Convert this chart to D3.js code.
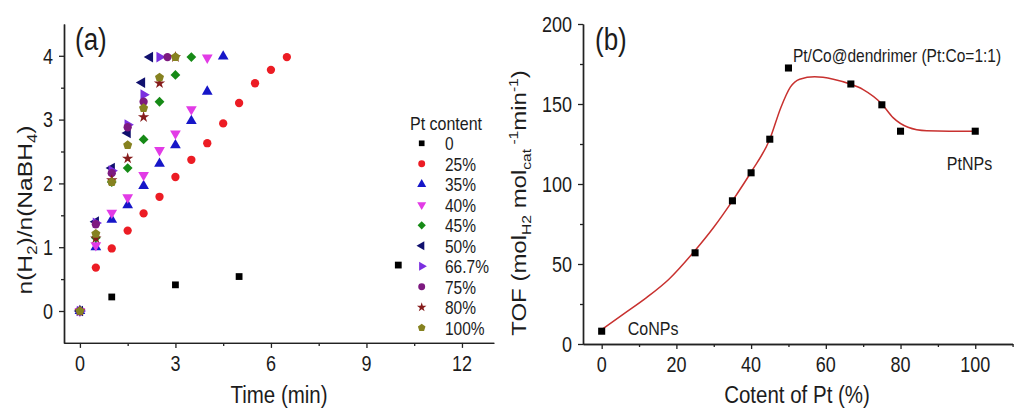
<!DOCTYPE html>
<html>
<head>
<meta charset="utf-8">
<script src="https://cdn.jsdelivr.net/npm/d3@7"></script>
<style>
  body { margin: 0; background: #fff; }
  svg { display: block; }
  text { font-family: "Liberation Sans", Arial, sans-serif; fill: #1c1c1c; }
</style>
</head>
<body>
<svg id="chart" width="1016" height="408"></svg>
<script>
// ---------- Panel (a): n(H2)/n(NaBH4) against time for each Pt content ----------
const ptLabels = ["0", "25%", "35%", "40%", "45%", "50%", "66.7%", "75%", "80%", "100%"];

const time0   = [0, 1, 3, 5, 10];
const h2_0    = [0, 0.22, 0.41, 0.54, 0.72];
const time25  = [0, 0.5, 1, 1.5, 2, 2.5, 3, 3.5, 4, 4.5, 5, 5.5, 6, 6.5];
const h2_25   = [0, 0.68, 0.98, 1.26, 1.53, 1.79, 2.10, 2.37, 2.63, 2.94, 3.26, 3.57, 3.78, 3.98];
const time35  = [0, 0.5, 1, 1.5, 2, 2.5, 3, 3.5, 4, 4.5];
const h2_35   = [0, 1.00, 1.43, 1.66, 1.96, 2.31, 2.60, 2.98, 3.44, 3.99];
const time40  = [0, 0.5, 1, 1.5, 2, 2.5, 3, 3.5, 4];
const h2_40   = [0, 1.03, 1.54, 1.78, 2.13, 2.52, 2.78, 3.16, 3.97];
const time45  = [0, 0.5, 1, 1.5, 2, 2.5, 3, 3.5];
const h2_45   = [0, 1.15, 2.02, 2.24, 2.69, 3.28, 3.70, 3.98];
const time50  = [0, 0.5, 1, 1.5, 1.95, 2.2];
const h2_50   = [0, 1.40, 2.24, 2.79, 3.58, 3.98];
const time667 = [0, 0.5, 1, 1.5, 2, 2.5];
const h2_667  = [0, 1.38, 2.20, 2.92, 3.39, 3.98];
const time75  = [0, 0.5, 1, 1.5, 2, 2.75];
const h2_75   = [0, 1.36, 2.16, 2.88, 3.28, 3.98];
const time80  = [0, 0.5, 1, 1.5, 2, 2.5, 3];
const h2_80   = [0, 1.14, 2.05, 2.39, 3.04, 3.57, 3.98];
const time100 = [0, 0.5, 1, 1.5, 2, 2.5, 3];
const h2_100  = [0, 1.21, 2.02, 2.60, 3.18, 3.66, 3.98];

const timeTicks = [0, 3, 6, 9, 12];
const timeMinorTicks = [1.5, 4.5, 7.5, 10.5];
const ratioTicks = [0, 1, 2, 3, 4];
const ratioMinorTicks = [0.5, 1.5, 2.5, 3.5];

// ---------- Panel (b): TOF against Pt content ----------
const ptContent = [0, 25, 35, 40, 45, 50, 66.7, 75, 80, 100];
const tof       = [8, 57, 89.5, 107, 128, 172.5, 162.5, 149.5, 133, 133];
// smooth fitted trend
const fitPt  = [0, 6, 12, 18, 25, 30, 35, 40, 45, 48, 50.5, 53, 57, 62, 66.5, 70, 75, 78, 82, 87, 93, 100];
const fitTof = [9, 19, 29, 40.5, 58.5, 73, 89.5, 107.5, 128, 148, 160.5, 165.5, 167, 165.5, 162.5, 159, 150, 141.5, 135.5, 133.3, 133, 133];

const contentTicks = [0, 20, 40, 60, 80, 100];
const contentMinorTicks = [10, 30, 50, 70, 90, 110];
const tofTicks = [0, 50, 100, 150, 200];
const tofMinorTicks = [25, 75, 125, 175];

// ---------- shared helpers ----------
const svg = d3.select("#chart");
const TEXT_STRETCH = 1.2;
const axisColor = "#222";

function label(g, x, y, str, size, anchor = "start") {
  return g.append("text")
    .attr("transform", `translate(${x},${y}) scale(1,${TEXT_STRETCH})`)
    .attr("font-size", size)
    .attr("text-anchor", anchor)
    .text(str);
}

function styleAxis(sel) {
  sel.select(".domain").attr("stroke", axisColor).attr("stroke-width", 1.4);
  sel.selectAll(".tick line").attr("stroke", axisColor).attr("stroke-width", 1.3);
  sel.selectAll(".tick text").remove();
}

function drawAxes(g, x, y, xt, xm, yt, ym, fmtX, fmtY) {
  const y0 = y.range()[0], x0 = x.range()[0];
  g.append("g").attr("transform", `translate(0,${y0})`)
    .call(d3.axisBottom(x).tickValues(xm).tickSize(3).tickSizeOuter(0)).call(styleAxis);
  g.append("g").attr("transform", `translate(0,${y0})`)
    .call(d3.axisBottom(x).tickValues(xt).tickSize(5).tickSizeOuter(0)).call(styleAxis);
  g.append("g").attr("transform", `translate(${x0},0)`)
    .call(d3.axisLeft(y).tickValues(ym).tickSize(3).tickSizeOuter(0)).call(styleAxis);
  g.append("g").attr("transform", `translate(${x0},0)`)
    .call(d3.axisLeft(y).tickValues(yt).tickSize(5).tickSizeOuter(0)).call(styleAxis);
  xt.forEach(v => label(g, x(v), y0 + 28, fmtX(v), 18, "middle"));
  yt.forEach(v => label(g, x0 - 11, y(v) + 7.7, fmtY(v), 18, "end"));
}

// custom marker shapes (d3 symbol type interface)
const symbolPentagon = {
  draw(ctx, size) {
    const r = Math.sqrt(size / (2.5 * Math.sin(2 * Math.PI / 5)));
    for (let i = 0; i < 5; i++) {
      const a = -Math.PI / 2 + i * 2 * Math.PI / 5;
      if (i === 0) ctx.moveTo(r * Math.cos(a), r * Math.sin(a));
      else ctx.lineTo(r * Math.cos(a), r * Math.sin(a));
    }
    ctx.closePath();
  }
};
const symbolRhombus = {
  draw(ctx, size) {
    const r = Math.sqrt(size / 2);
    ctx.moveTo(0, -r); ctx.lineTo(r, 0); ctx.lineTo(0, r); ctx.lineTo(-r, 0); ctx.closePath();
  }
};

// ================= Panel (a) =================
const gA = svg.append("g");
const xA = d3.scaleLinear().domain([-0.5, 13]).range([64, 493.8]);
const yA = d3.scaleLinear().domain([-0.5, 4.5]).range([342.9, 23.9]);

drawAxes(gA, xA, yA, timeTicks, timeMinorTicks, ratioTicks, ratioMinorTicks, d3.format("d"), d3.format("d"));

const seriesA = [
  { t: time0,   v: h2_0,   type: d3.symbolSquare,   rot: 0,   size: 46, color: "#000000" },
  { t: time25,  v: h2_25,  type: d3.symbolCircle,   rot: 0,   size: 54, color: "#ec1c24" },
  { t: time35,  v: h2_35,  type: d3.symbolTriangle, rot: 0,   size: 50, color: "#1616c8" },
  { t: time40,  v: h2_40,  type: d3.symbolTriangle, rot: 180, size: 50, color: "#e23be6" },
  { t: time45,  v: h2_45,  type: symbolRhombus,     rot: 0,   size: 48, color: "#168a16" },
  { t: time50,  v: h2_50,  type: d3.symbolTriangle, rot: -90, size: 50, color: "#10106e" },
  { t: time667, v: h2_667, type: d3.symbolTriangle, rot: 90,  size: 50, color: "#7b2fe0" },
  { t: time75,  v: h2_75,  type: d3.symbolCircle,   rot: 0,   size: 54, color: "#7d1a80" },
  { t: time80,  v: h2_80,  type: d3.symbolStar,     rot: 0,   size: 40, color: "#861c1c" },
  { t: time100, v: h2_100, type: symbolPentagon,    rot: 0,   size: 54, color: "#868220" }
];

seriesA.forEach(s => {
  const path = d3.symbol().type(s.type).size(s.size)();
  gA.append("g").selectAll("path")
    .data(s.t.map((t, i) => [t, s.v[i]]))
    .join("path")
    .attr("d", path)
    .attr("fill", s.color)
    .attr("transform", d => `translate(${xA(d[0])},${yA(d[1])}) rotate(${s.rot})`);
});

// legend
const legend = gA.append("g");
label(legend, 410, 130, "Pt content", 16);
ptLabels.forEach((lab, i) => {
  const cy = 143.3 + i * 20.5;
  const s = seriesA[i];
  legend.append("path")
    .attr("d", d3.symbol().type(s.type).size(s.size * 0.7)())
    .attr("fill", s.color)
    .attr("transform", `translate(421.7,${cy}) rotate(${s.rot})`);
  label(legend, 445, cy + 6.7, lab, 15.5);
});

label(gA, 75, 50, "(a)", 26);
label(gA, 279, 403, "Time (min)", 20.5, "middle");

// rotated y title with subscripts
const yTitleA = gA.append("text")
  .attr("transform", `translate(32,210) rotate(-90) scale(${TEXT_STRETCH},1)`)
  .attr("font-size", 20.5).attr("text-anchor", "middle");
yTitleA.append("tspan").text("n(H");
yTitleA.append("tspan").attr("font-size", 14).attr("dy", 5).text("2");
yTitleA.append("tspan").attr("dy", -5).text(")/n(NaBH");
yTitleA.append("tspan").attr("font-size", 14).attr("dy", 5).text("4");
yTitleA.append("tspan").attr("dy", -5).text(")");

// ================= Panel (b) =================
const gB = svg.append("g");
const xB = d3.scaleLinear().domain([-5, 110]).range([583, 1012.6]);
const yB = d3.scaleLinear().domain([0, 200]).range([344, 24]);

drawAxes(gB, xB, yB, contentTicks, contentMinorTicks, tofTicks, tofMinorTicks, d3.format("d"), d3.format("d"));

const fitLine = d3.line().x(d => xB(d[0])).y(d => yB(d[1])).curve(d3.curveMonotoneX);
gB.append("path")
  .datum(fitPt.map((p, i) => [p, fitTof[i]]))
  .attr("d", fitLine)
  .attr("fill", "none")
  .attr("stroke", "#c8312f")
  .attr("stroke-width", 1.5);

gB.append("g").selectAll("path")
  .data(ptContent.map((p, i) => [p, tof[i]]))
  .join("path")
  .attr("d", d3.symbol().type(d3.symbolSquare).size(50)())
  .attr("fill", "#000")
  .attr("transform", d => `translate(${xB(d[0])},${yB(d[1])})`);

label(gB, xB(7), yB(5.5), "CoNPs", 16);
label(gB, xB(92.4), yB(108.7), "PtNPs", 16);
label(gB, xB(51.2), yB(176.5), "Pt/Co@dendrimer (Pt:Co=1:1)", 15.5);

label(gB, 595, 50, "(b)", 26);
label(gB, 797, 403, "Cotent of Pt (%)", 20.5, "middle");

const yTitleB = gB.append("text")
  .attr("transform", `translate(526,203) rotate(-90) scale(${TEXT_STRETCH},1)`)
  .attr("font-size", 20).attr("text-anchor", "middle");
yTitleB.append("tspan").text("TOF (mol");
yTitleB.append("tspan").attr("font-size", 13).attr("dy", 5).text("H2");
yTitleB.append("tspan").attr("dy", -5).text(" mol");
yTitleB.append("tspan").attr("font-size", 13).attr("dy", 5).text("cat");
yTitleB.append("tspan").attr("font-size", 13).attr("dy", -13).text(" -1");
yTitleB.append("tspan").attr("dy", 8).text("min");
yTitleB.append("tspan").attr("font-size", 13).attr("dy", -8).text("-1");
yTitleB.append("tspan").attr("dy", 8).text(")");
</script>
</body>
</html>
